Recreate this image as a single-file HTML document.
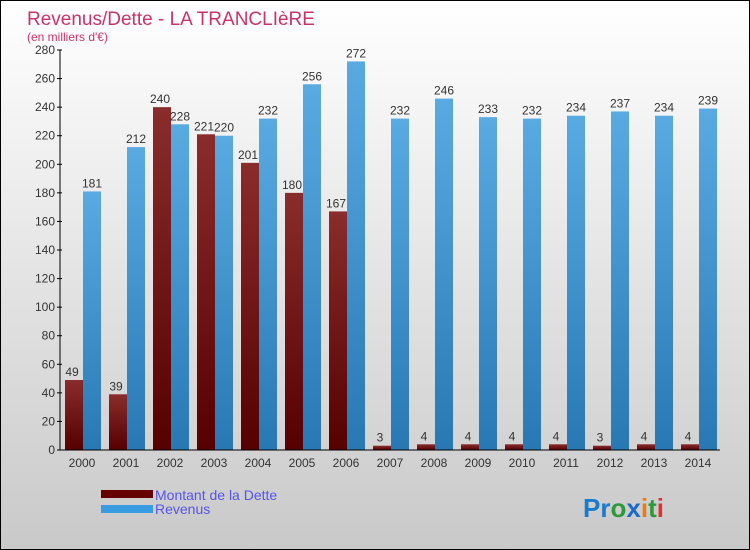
<!DOCTYPE html>
<html><head><meta charset="utf-8"><style>
body{margin:0}
#wrap{position:relative;width:748px;height:548px;border:1px solid #000;background:linear-gradient(#fff,#c9c9c9);font-family:"Liberation Sans",sans-serif;overflow:hidden}
</style></head><body>
<div id="wrap">
<svg id="chart" width="748" height="548">
<defs>
<linearGradient id="gd" x1="0" y1="0" x2="0" y2="1"><stop offset="0" stop-color="#8a2c2c"/><stop offset="1" stop-color="#560000"/></linearGradient>
<linearGradient id="gr" x1="0" y1="0" x2="0" y2="1"><stop offset="0" stop-color="#5aaae2"/><stop offset="1" stop-color="#2878b4"/></linearGradient>
</defs>
<text x="26" y="24" font-size="19" fill="#c8336a">Revenus/Dette - LA TRANCLIèRE</text>
<text x="26" y="40" font-size="12" fill="#c8336a">(en milliers d'€)</text>
<g id="plot"></g>
<rect x="100" y="489" width="52" height="8" fill="#660000"/>
<rect x="100" y="504" width="52" height="8" fill="#3a9ce0"/>
<text x="154" y="499" font-size="14" fill="#5555ee">Montant de la Dette</text>
<text x="154" y="513" font-size="14" fill="#5555ee">Revenus</text>
<text x="582" y="516" font-size="26" font-weight="bold"><tspan fill="#1a7acc">Pr</tspan><tspan fill="#2a9a3a">o</tspan><tspan fill="#1a6acc">x</tspan><tspan fill="#f07a10">i</tspan><tspan fill="#2a9a3a">t</tspan><tspan fill="#e03030">i</tspan></text>
</svg>
</div>
<script>
const categories=["2000","2001","2002","2003","2004","2005","2006","2007","2008","2009","2010","2011","2012","2013","2014"];
const dette=[49,39,240,221,201,180,167,3,4,4,4,4,3,4,4];
const revenus=[181,212,228,220,232,256,272,232,246,233,232,234,237,234,239];
const yTicks=[0,20,40,60,80,100,120,140,160,180,200,220,240,260,280];
const NS="http://www.w3.org/2000/svg";
const g=document.getElementById('plot');
const x0=59,step=44,y0=449,yMax=280,ph=400;
const y=v=>y0-v/yMax*ph;
const xg=i=>x0+i*step;
function mk(t,a){const e=document.createElementNS(NS,t);for(const k in a)e.setAttribute(k,a[k]);g.appendChild(e);return e;}
categories.forEach((c,i)=>{
  const xd=xg(i)+5,xr=xg(i)+23,w=18;
  let r=mk('rect',{x:xd,y:y(dette[i]),width:w,height:y0-y(dette[i]),fill:'url(#gd)'});
  
  
  r=mk('rect',{x:xr,y:y(revenus[i]),width:w,height:y0-y(revenus[i]),fill:'url(#gr)'});
  
  
  let t=mk('text',{x:xd+w/2-2,y:y(dette[i])-4,'font-size':12,fill:'#333','text-anchor':'middle'});t.textContent=dette[i];
  
  
  t=mk('text',{x:xr+w/2,y:y(revenus[i])-4,'font-size':12,fill:'#333','text-anchor':'middle'});t.textContent=revenus[i];
  
  
  t=mk('text',{x:xg(i)+22,y:y0+17,'font-size':12,fill:'#333','text-anchor':'middle'});t.textContent=c;
  
  
});
yTicks.forEach(v=>{
  let l=mk('line',{x1:x0-3,x2:x0+2,y1:y(v),y2:y(v),stroke:'#000'});
  
  
  let t=mk('text',{x:x0-5,y:y(v)+4,'font-size':12,fill:'#333','text-anchor':'end'});t.textContent=v;
  
  
});
let a=mk('line',{x1:x0,x2:x0,y1:y(yMax),y2:y0,stroke:'#000'});


a=mk('line',{x1:x0,x2:x0+step*categories.length,y1:y0,y2:y0,stroke:'#000'});


</script>
</body></html>
